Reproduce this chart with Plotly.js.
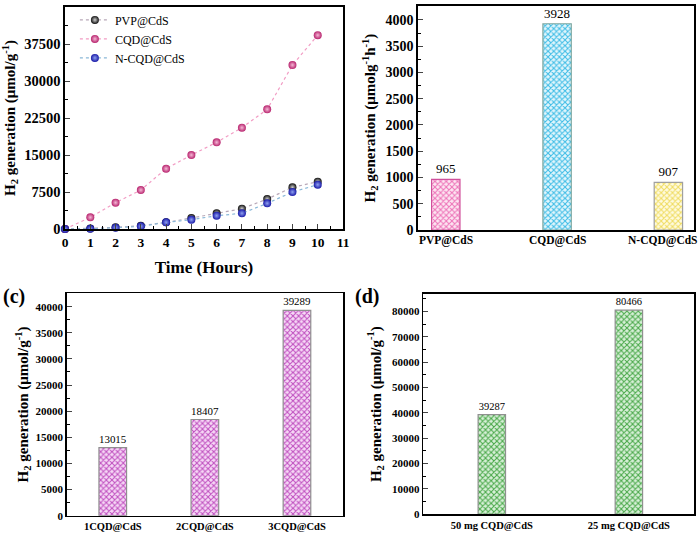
<!DOCTYPE html>
<html>
<head>
<meta charset="utf-8">
<script src="https://cdn.plot.ly/plotly-3.0.1.min.js"></script>
<style>body{margin:0;padding:0;background:#fff}#chart{width:700px;height:538px}</style>
</head>
<body>
<div id="chart"></div>
<script>
// Panel (a): H2 generation vs time
const timeHours = [0,1,2,3,4,5,6,7,8,9,10];
const pvpValues = [0,100,340,680,1350,2230,3180,4120,6080,8450,9590];
const cqdValues = [0,2370,5340,7900,12230,15000,17570,20540,24260,33240,39290];
const ncqdValues = [0,30,270,540,1350,1890,2700,3180,5200,7500,8990];
const seriesNames = ["PVP@CdS","CQD@CdS","N-CQD@CdS"];

// Panel (b): rates
const rateCats = ["PVP@CdS","CQD@CdS","N-CQD@CdS"];
const rateValues = [965,3928,907];

// Panel (c)
const loadCats = ["1CQD@CdS","2CQD@CdS","3CQD@CdS"];
const loadValues = [13015,18407,39289];

// Panel (d)
const massCats = ["50 mg CQD@CdS","25 mg CQD@CdS"];
const massValues = [39287,80466];

const SERIF = "Liberation Serif";
const tickBold = (s)=>({family:SERIF,size:s,color:"#000",weight:"bold"});

function lineTrace(y,name,mcol,lcol,grad){
  return {x:timeHours,y:y,name:name,type:"scatter",mode:"lines+markers",xaxis:"x",yaxis:"y",
    line:{color:lcol,width:1.2,dash:"dot"},
    marker:{size:8,color:mcol,gradient:{type:"radial",color:grad},line:{width:0}},cliponaxis:false};
}

function barTrace(cats,vals,xa,ya,fg,bg,lc,w,ts){
  return {x:cats,y:vals,type:"bar",xaxis:xa,yaxis:ya,width:w,showlegend:false,
    marker:{color:bg,line:{color:lc,width:1.2},pattern:{shape:"x",fgcolor:fg,bgcolor:bg,size:4,solidity:0.45}},
    text:vals.map(String),textposition:"outside",cliponaxis:false,
    textfont:{family:SERIF,size:ts,color:"#000"}};
}

const traces = [
  lineTrace(pvpValues,seriesNames[0],"#111111","#b8a8b8","#cfcfcf"),
  lineTrace(cqdValues,seriesNames[1],"#b8246e","#f29cc4","#f5b8d6"),
  lineTrace(ncqdValues,seriesNames[2],"#1a1aa8","#8ab8d8","#8ea0f0"),
  barTrace([rateCats[0]],[rateValues[0]],"x2","y2","#ee72b8","#fde6f2","#d0509c",0.255,13),
  barTrace([rateCats[1]],[rateValues[1]],"x2","y2","#3cbce6","#e2f6fc","#80a8a0",0.255,13),
  barTrace([rateCats[2]],[rateValues[2]],"x2","y2","#f0dc60","#fffbe0","#a0a0a0",0.255,13),
  barTrace(loadCats,loadValues,"x3","y3","#c050c0","#f6d8f6","#909090",0.3,11.5),
  barTrace(massCats,massValues,"x4","y4","#48a848","#d8f0d8","#909090",0.2,10.5)
];

const boxAxis = {showline:true,linecolor:"#000",linewidth:1.6,mirror:true,zeroline:false,showgrid:false};

const bLabelShift = [0,0,-6];
const bLabels = rateCats.map((c,i)=>({text:c,xref:"x2",yref:"paper",x:c,y:1-240/538,xshift:bLabelShift[i],
  xanchor:"center",yanchor:"middle",showarrow:false,font:{family:SERIF,size:11.5,weight:"bold",color:"#000"}}));

const layout = {
  width:700,height:538,margin:{l:0,r:0,t:0,b:0},paper_bgcolor:"#fff",plot_bgcolor:"#fff",
  font:{family:SERIF,color:"#000"},barmode:"overlay",
  showlegend:true,
  legend:{x:0.107,y:0.99,xanchor:"left",yanchor:"top",bgcolor:"rgba(0,0,0,0)",font:{family:SERIF,size:12,color:"#000"},tracegroupgap:0,itemwidth:30},
  xaxis:Object.assign({},boxAxis,{domain:[0.0929,0.49],anchor:"y",range:[0,11],dtick:1,ticks:"inside",ticklen:5,
    minor:{ticks:"inside",ticklen:3,dtick:0.5,tickcolor:"#000"},tickfont:tickBold(13.5),
    title:{text:"Time (Hours)",font:{family:SERIF,size:17,weight:"bold",color:"#000"},standoff:12}}),
  yaxis:Object.assign({},boxAxis,{domain:[0.5743,0.987],anchor:"x",range:[0,45000],dtick:7500,tickformat:"d",ticks:"inside",ticklen:5,
    minor:{ticks:"inside",ticklen:3,dtick:3750,tickcolor:"#000"},tickfont:tickBold(14.5),
    title:{text:"H<sub>2</sub> generation (μmol/g<sup>-1</sup>)",font:{family:SERIF,size:15,weight:"bold",color:"#000"},standoff:6}}),
  xaxis2:Object.assign({},boxAxis,{domain:[0.5971,0.9914],anchor:"y2",range:[-0.25,2.23],ticks:"",showticklabels:false}),
  yaxis2:Object.assign({},boxAxis,{domain:[0.5725,0.9888],anchor:"x2",range:[0,4265],dtick:500,tickformat:"d",ticks:"inside",ticklen:5,
    minor:{ticks:"inside",ticklen:3,dtick:250,tickcolor:"#000"},tickfont:tickBold(14),
    title:{text:"H<sub>2</sub> generation (μmolg<sup>-1</sup>h<sup>-1</sup>)",font:{family:SERIF,size:15,weight:"bold",color:"#000"},standoff:6}}),
  xaxis3:Object.assign({},boxAxis,{domain:[0.0953,0.49],anchor:"y3",range:[-0.5,2.5],ticks:"",tickfont:tickBold(10.5)}),
  yaxis3:Object.assign({},boxAxis,{domain:[0.04145,0.4548],anchor:"x3",range:[0,42550],dtick:5000,tickformat:"d",ticks:"inside",ticklen:5,
    minor:{ticks:"inside",ticklen:3,dtick:2500,tickcolor:"#000"},tickfont:tickBold(11),
    title:{text:"H<sub>2</sub> generation (μmol/g<sup>-1</sup>)",font:{family:SERIF,size:15,weight:"bold",color:"#000"},standoff:3}}),
  xaxis4:Object.assign({},boxAxis,{domain:[0.6047,0.9914],anchor:"y4",range:[-0.5,1.475],ticks:"",tickfont:tickBold(10.5)}),
  yaxis4:Object.assign({},boxAxis,{domain:[0.04405,0.4535],anchor:"x4",range:[0,86830],dtick:10000,tickformat:"d",ticks:"inside",ticklen:5,
    minor:{ticks:"inside",ticklen:3,dtick:5000,tickcolor:"#000"},tickfont:tickBold(11),
    title:{text:"H<sub>2</sub> generation (μmol/g<sup>-1</sup>)",font:{family:SERIF,size:15,weight:"bold",color:"#000"},standoff:7}}),
  annotations:[
    {text:"(c)",xref:"paper",yref:"paper",x:14/700,y:1-296/538,xanchor:"center",yanchor:"middle",showarrow:false,font:{family:SERIF,size:20,weight:"bold",color:"#000"}},
    {text:"(d)",xref:"paper",yref:"paper",x:367/700,y:1-296/538,xanchor:"center",yanchor:"middle",showarrow:false,font:{family:SERIF,size:20,weight:"bold",color:"#000"}}
  ].concat(bLabels)
};

Plotly.newPlot("chart",traces,layout,{displayModeBar:false,staticPlot:true});
</script>
</body>
</html>
